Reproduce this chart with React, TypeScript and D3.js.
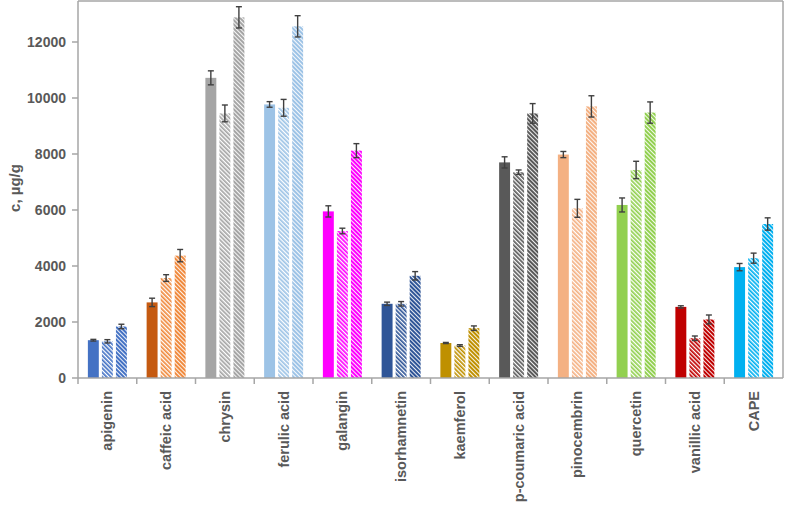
import React from "react";
import * as d3 from "d3";

const categories = ["apigenin","caffeic acid","chrysin","ferulic acid","galangin","isorhamnetin","kaemferol","p-coumaric acid","pinocembrin","quercetin","vanillic acid","CAPE"];
const series1 = [1350, 2700, 10720, 9770, 5950, 2650, 1250, 7700, 7980, 6180, 2540, 3960];
const series2 = [1310, 3570, 9450, 9650, 5250, 2650, 1160, 7350, 6060, 7430, 1420, 4280];
const series3 = [1840, 4370, 12880, 12560, 8120, 3650, 1780, 9450, 9700, 9480, 2090, 5500];
const err1 = [30, 150, 250, 100, 200, 60, 20, 200, 110, 250, 40, 130];
const err2 = [60, 120, 300, 300, 100, 80, 30, 80, 320, 310, 80, 180];
const err3 = [80, 220, 380, 380, 250, 150, 80, 350, 380, 380, 160, 220];
const colors = ["#4472C4","#C55A11","#A5A5A5","#9DC3E6","#FF00FF","#2F5597","#BF9000","#595959","#F4B183","#92D050","#C00000","#00B0F0"];
const hatchColors = ["#4472C4","#F08A3E","#A5A5A5","#9DC3E6","#FF00FF","#2F5597","#BF9000","#595959","#F4B183","#92D050","#C00000","#00B0F0"];
const yTicks = [0, 2000, 4000, 6000, 8000, 10000, 12000];

const W = 786, H = 506;
const left = 78, right = 783, bottom = 378, top = 1;

export default function App() {
  const x = d3.scaleBand<string>().domain(categories).range([left, right]).padding(0);
  const y = d3.scaleLinear().domain([0, 12000]).range([bottom, 42]);
  const inner = d3.scaleBand<number>().domain([0, 1, 2]).range([-19.5, 19.5]).paddingInner(0.22).paddingOuter(0);
  const bw = inner.bandwidth();
  const axisColor = "#A6A6A6";
  const textColor = "#595959";
  const font = "'Liberation Sans', Arial, sans-serif";
  const seriesList = [series1, series2, series3];
  const errList = [err1, err2, err3];

  return (
    <div style={{ position: "absolute", left: 0, top: 0 }}>
      <svg width={W} height={H} style={{ display: "block", background: "#fff" }}>
        <defs>
          {categories.map((c, i) => (
            <React.Fragment key={c}>
              <pattern id={`h2-${i}`} patternUnits="userSpaceOnUse" width={3} height={3} patternTransform="rotate(-45)">
                <rect width={3} height={3} fill="#fff" />
                <rect width={1.7} height={3} fill={hatchColors[i]} />
              </pattern>
              <pattern id={`h3-${i}`} patternUnits="userSpaceOnUse" width={3} height={3} patternTransform="rotate(-45)">
                <rect width={3} height={3} fill="#fff" />
                <rect width={2.1} height={3} fill={hatchColors[i]} />
              </pattern>
            </React.Fragment>
          ))}
        </defs>
        {/* plot frame */}
        <line x1={left} x2={right} y1={top} y2={top} stroke={axisColor} strokeWidth={1.5} />
        <line x1={right} x2={right} y1={top} y2={bottom} stroke={axisColor} strokeWidth={1.5} />
        {/* y axis */}
        <line x1={left} x2={left} y1={top} y2={bottom} stroke={axisColor} strokeWidth={1.5} />
        {yTicks.map(t => (
          <g key={t}>
            <line x1={left - 6} x2={left} y1={y(t)} y2={y(t)} stroke={axisColor} strokeWidth={1.5} />
            <text x={left - 12} y={y(t)} dy="0.35em" textAnchor="end" fontFamily={font} fontWeight="bold" fontSize={14} fill={textColor}>{t}</text>
          </g>
        ))}
        <text transform={`translate(20,188) rotate(-90)`} textAnchor="middle" fontFamily={font} fontWeight="bold" fontSize={15} fill={textColor}>c, µg/g</text>
        {/* bars */}
        {categories.map((c, i) => {
          const cx = (x(c) as number) + x.bandwidth() / 2;
          return (
            <g key={c}>
              {seriesList.map((s, k) => {
                const bx = cx + (inner(k) as number);
                const fill = k === 0 ? colors[i] : `url(#h${k + 1}-${i})`;
                return <rect key={k} x={bx} y={y(s[i])} width={bw} height={bottom - y(s[i])} fill={fill} />;
              })}
              {seriesList.map((s, k) => {
                const mx = cx + (inner(k) as number) + bw / 2;
                const e = errList[k][i];
                const y1 = y(s[i] + e), y2 = y(s[i] - e);
                return (
                  <g key={"e" + k} stroke="#404040" strokeWidth={1.4}>
                    <line x1={mx} x2={mx} y1={y1} y2={y2} />
                    <line x1={mx - 3} x2={mx + 3} y1={y1} y2={y1} />
                    <line x1={mx - 3} x2={mx + 3} y1={y2} y2={y2} />
                  </g>
                );
              })}
            </g>
          );
        })}
        {/* x axis */}
        <line x1={left} x2={right} y1={bottom} y2={bottom} stroke={axisColor} strokeWidth={1.5} />
        {categories.map(c => (
          <line key={"t" + c} x1={(x(c) as number)} x2={(x(c) as number)} y1={bottom} y2={bottom + 6} stroke={axisColor} strokeWidth={1.5} />
        ))}
        {categories.map(c => {
          const cx = (x(c) as number) + x.bandwidth() / 2;
          return (
            <text key={"l" + c} transform={`translate(${cx + 5},${bottom + 13}) rotate(-90)`} textAnchor="end" fontFamily={font} fontWeight="bold" fontSize={14.5} fill={textColor}>{c}</text>
          );
        })}
      </svg>
    </div>
  );
}
